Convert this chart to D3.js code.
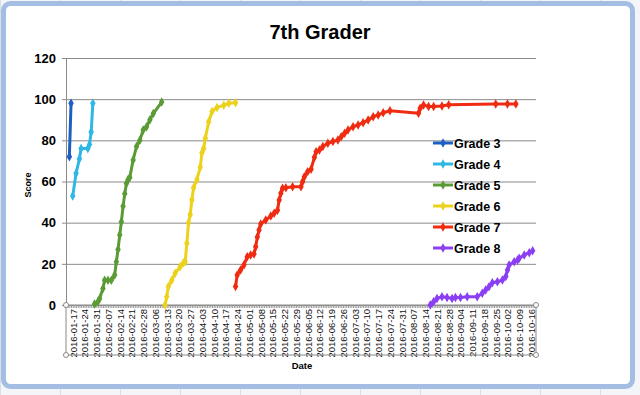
<!DOCTYPE html>
<html>
<head>
<meta charset="utf-8">
<script src="https://cdn.jsdelivr.net/npm/d3@7"></script>
<style>
  body { margin: 0; background: #eef1f6; }
  svg { display: block; font-family: 'Liberation Sans', Arial, sans-serif; }
</style>
</head>
<body>
<svg id="chart" width="640" height="395"></svg>
<script>
'use strict'

const grades = ['Grade 3', 'Grade 4', 'Grade 5', 'Grade 6', 'Grade 7', 'Grade 8']
const colors = ['#1d5fc4', '#2fb8e6', '#5b9b35', '#ecd21c', '#ef2c12', '#8b3ff2']

const grade3 = [['2016-01-15', 72], ['2016-01-16', 98]]
const grade4 = [['2016-01-17', 53], ['2016-01-19', 64], ['2016-01-21', 71], ['2016-01-22', 76],
  ['2016-01-26', 76], ['2016-01-27', 78], ['2016-01-28', 84], ['2016-01-29', 98]]
const grade5 = [['2016-01-30', 0.5], ['2016-02-01', 1.6], ['2016-02-02', 3], ['2016-02-04', 8],
  ['2016-02-05', 12], ['2016-02-07', 12], ['2016-02-09', 12], ['2016-02-11', 14.6],
  ['2016-02-12', 21], ['2016-02-13', 27], ['2016-02-14', 34], ['2016-02-15', 40.5],
  ['2016-02-16', 48], ['2016-02-17', 54], ['2016-02-18', 59], ['2016-02-19', 61],
  ['2016-02-20', 62], ['2016-02-22', 70.5], ['2016-02-24', 77], ['2016-02-26', 80],
  ['2016-02-28', 85], ['2016-03-01', 86.6], ['2016-03-03', 90], ['2016-03-05', 93],
  ['2016-03-10', 98.6]]
const grade6 = [['2016-03-12', 0], ['2016-03-13', 4], ['2016-03-14', 9], ['2016-03-16', 12],
  ['2016-03-18', 15.4], ['2016-03-21', 18.6], ['2016-03-23', 20.5], ['2016-03-24', 21],
  ['2016-03-25', 30], ['2016-03-26', 40], ['2016-03-27', 44], ['2016-03-28', 51],
  ['2016-03-29', 57], ['2016-03-31', 61], ['2016-04-02', 67], ['2016-04-03', 74],
  ['2016-04-04', 76], ['2016-04-05', 81], ['2016-04-07', 89], ['2016-04-09', 94],
  ['2016-04-12', 96], ['2016-04-16', 97], ['2016-04-19', 98], ['2016-04-23', 98.3]]
const grade7 = [['2016-04-23', 9], ['2016-04-24', 14.6], ['2016-04-26', 17], ['2016-04-28', 19.4],
  ['2016-04-30', 23.5], ['2016-05-02', 24.3], ['2016-05-04', 24.8], ['2016-05-05', 28.3],
  ['2016-05-06', 33], ['2016-05-07', 36.4], ['2016-05-08', 39.4], ['2016-05-11', 41.3],
  ['2016-05-14', 43.2], ['2016-05-16', 44.6], ['2016-05-18', 46], ['2016-05-19', 51],
  ['2016-05-20', 54.3], ['2016-05-21', 56.7], ['2016-05-23', 57], ['2016-05-27', 57.5],
  ['2016-06-01', 57.5], ['2016-06-02', 60], ['2016-06-03', 62.3], ['2016-06-05', 64.8],
  ['2016-06-07', 66], ['2016-06-09', 71.8], ['2016-06-10', 74.5], ['2016-06-12', 75.3],
  ['2016-06-14', 77], ['2016-06-17', 78.6], ['2016-06-20', 79.4], ['2016-06-23', 80.2],
  ['2016-06-25', 81.8], ['2016-06-27', 83.4], ['2016-06-29', 85], ['2016-07-02', 86.6],
  ['2016-07-05', 87.5], ['2016-07-08', 88.6], ['2016-07-11', 89.9], ['2016-07-14', 91.5],
  ['2016-07-17', 92.3], ['2016-07-20', 93.4], ['2016-07-24', 94.4], ['2016-08-10', 93.2],
  ['2016-08-11', 95.6], ['2016-08-13', 97.2], ['2016-08-16', 96.4], ['2016-08-19', 96.4],
  ['2016-08-24', 96.7], ['2016-08-28', 97.3], ['2016-09-25', 97.7], ['2016-10-02', 97.7],
  ['2016-10-07', 97.7]]
const grade8 = [['2016-08-17', 0], ['2016-08-19', 1.6], ['2016-08-21', 3.2], ['2016-08-24', 4],
  ['2016-08-27', 3.7], ['2016-08-30', 3.2], ['2016-09-01', 3.6], ['2016-09-04', 3.7],
  ['2016-09-08', 4], ['2016-09-14', 4], ['2016-09-17', 5.7], ['2016-09-19', 7.3],
  ['2016-09-21', 8.9], ['2016-09-23', 10.8], ['2016-09-26', 11.3], ['2016-09-29', 12.1],
  ['2016-10-01', 13.8], ['2016-10-02', 17], ['2016-10-03', 19.4], ['2016-10-06', 21],
  ['2016-10-08', 21.9], ['2016-10-09', 22.7], ['2016-10-12', 24.3], ['2016-10-15', 25.4],
  ['2016-10-17', 26.4]]

const yTicks = [0, 20, 40, 60, 80, 100, 120]
const xStart = '2016-01-13'
const xEnd = '2016-10-19'
const firstLabel = '2016-01-17'
const lastLabel = '2016-10-16'

const parse = d3.timeParse('%Y-%m-%d')
const fmt = d3.timeFormat('%Y-%m-%d')
const series = [grade3, grade4, grade5, grade6, grade7, grade8]
  .map((s, i) => ({name: grades[i], color: colors[i], values: s.map(([d, v]) => ({date: parse(d), v}))}))

const svg = d3.select('#chart')

// spreadsheet look behind the chart
const bg = svg.append('g')
bg.append('rect').attr('width', 640).attr('height', 395).attr('fill', '#f3f5f9')
d3.range(0, 640, 60).forEach(x => bg.append('line')
  .attr('x1', x + 0.5).attr('x2', x + 0.5).attr('y1', 0).attr('y2', 395)
  .attr('stroke', '#d9dfe8'))
bg.append('rect').attr('x', 3.5).attr('y', 3.5).attr('width', 629).attr('height', 383)
  .attr('rx', 7).attr('fill', 'white').attr('stroke', '#a3bde3').attr('stroke-width', 5)

const margin = {left: 66, right: 104, top: 58, bottom: 90}
const x = d3.scaleTime().domain([parse(xStart), parse(xEnd)]).range([margin.left, 640 - margin.right])
const y = d3.scaleLinear().domain([0, 120]).range([395 - margin.bottom, margin.top])

// gridlines
svg.append('g')
  .attr('transform', `translate(${margin.left},0)`)
  .call(d3.axisLeft(y).tickValues(yTicks).tickSize(-(x.range()[1] - margin.left)).tickFormat(''))
  .call(g => g.select('.domain').remove())
  .call(g => g.selectAll('line').attr('stroke', '#8a8a8a').attr('stroke-width', 1))

// y axis
svg.append('g')
  .attr('transform', `translate(${margin.left},0)`)
  .call(d3.axisLeft(y).tickValues(yTicks).tickSize(4).tickPadding(6))
  .call(g => g.select('.domain').attr('stroke', '#8a8a8a'))
  .call(g => g.selectAll('line').attr('stroke', '#8a8a8a'))
  .call(g => g.selectAll('text').attr('font-size', 13).attr('font-weight', 'bold').attr('fill', '#000'))

// x axis: dense day ticks plus weekly labels (the labelled dates are Sundays)
const weekTicks = d3.timeWeek.range(parse(firstLabel), d3.timeDay.offset(parse(lastLabel), 1))
const xAxisG = svg.append('g').attr('transform', `translate(0,${y(0)})`)
xAxisG.call(d3.axisBottom(x).tickValues(d3.timeDay.range(parse(xStart), parse(xEnd))).tickSize(3).tickFormat(''))
  .call(g => g.select('.domain').attr('stroke', '#8a8a8a'))
  .call(g => g.selectAll('line').attr('stroke', '#9a9a9a'))
const labelsG = svg.append('g').attr('transform', `translate(0,${y(0)})`)
labelsG.call(d3.axisBottom(x).tickValues(weekTicks).tickSize(0).tickFormat(fmt))
  .call(g => g.select('.domain').remove())
  .call(g => g.selectAll('text')
    .attr('transform', 'rotate(-90)')
    .attr('text-anchor', 'end')
    .attr('x', -4).attr('y', 0).attr('dy', '0.35em')
    .attr('font-size', 9.5).attr('fill', '#111'))

// selection box around the category axis
const boxTop = y(0)
const boxBottom = y(0) + 50
svg.append('rect').attr('x', margin.left).attr('y', boxTop)
  .attr('width', x.range()[1] - margin.left).attr('height', boxBottom - boxTop)
  .attr('fill', 'none').attr('stroke', '#8a8a8a')
;[[margin.left, boxTop], [x.range()[1], boxTop], [margin.left, boxBottom], [x.range()[1], boxBottom]]
  .forEach(([cx, cy]) => svg.append('circle').attr('cx', cx).attr('cy', cy).attr('r', 2.5)
    .attr('fill', 'white').attr('stroke', '#888'))

// lines and markers
const line = d3.line().x(d => x(d.date)).y(d => y(d.v))
const diamond = d3.symbol().type(d3.symbolDiamond).size(26)
const sg = svg.append('g').selectAll('g').data(series).join('g')
sg.append('path')
  .attr('d', d => line(d.values))
  .attr('fill', 'none').attr('stroke', d => d.color).attr('stroke-width', 3)
  .attr('stroke-linejoin', 'round')
sg.selectAll('path.m').data(d => d.values.map(v => ({...v, color: d.color}))).join('path')
  .attr('class', 'm')
  .attr('d', diamond)
  .attr('transform', d => `translate(${x(d.date)},${y(d.v)})`)
  .attr('fill', d => d.color)

// legend
const legend = svg.append('g').attr('transform', 'translate(433,143)')
const li = legend.selectAll('g').data(series).join('g')
  .attr('transform', (d, i) => `translate(0,${i * 21})`)
li.append('line').attr('x1', 0).attr('x2', 20).attr('stroke', d => d.color).attr('stroke-width', 3)
li.append('path').attr('d', diamond).attr('transform', 'translate(10,0)').attr('fill', d => d.color)
li.append('text').attr('x', 21).attr('dy', '0.36em')
  .attr('font-size', 12.5).attr('font-weight', 'bold').text(d => d.name)

// titles
svg.append('text').attr('x', 320).attr('y', 39).attr('text-anchor', 'middle')
  .attr('font-size', 20).attr('font-weight', 'bold').text('7th Grader')
svg.append('text').attr('transform', 'translate(31,185) rotate(-90)').attr('text-anchor', 'middle')
  .attr('font-size', 9).attr('font-weight', 'bold').text('Score')
svg.append('text').attr('x', 302).attr('y', 369).attr('text-anchor', 'middle')
  .attr('font-size', 9.5).attr('font-weight', 'bold').text('Date')
</script>
</body>
</html>
